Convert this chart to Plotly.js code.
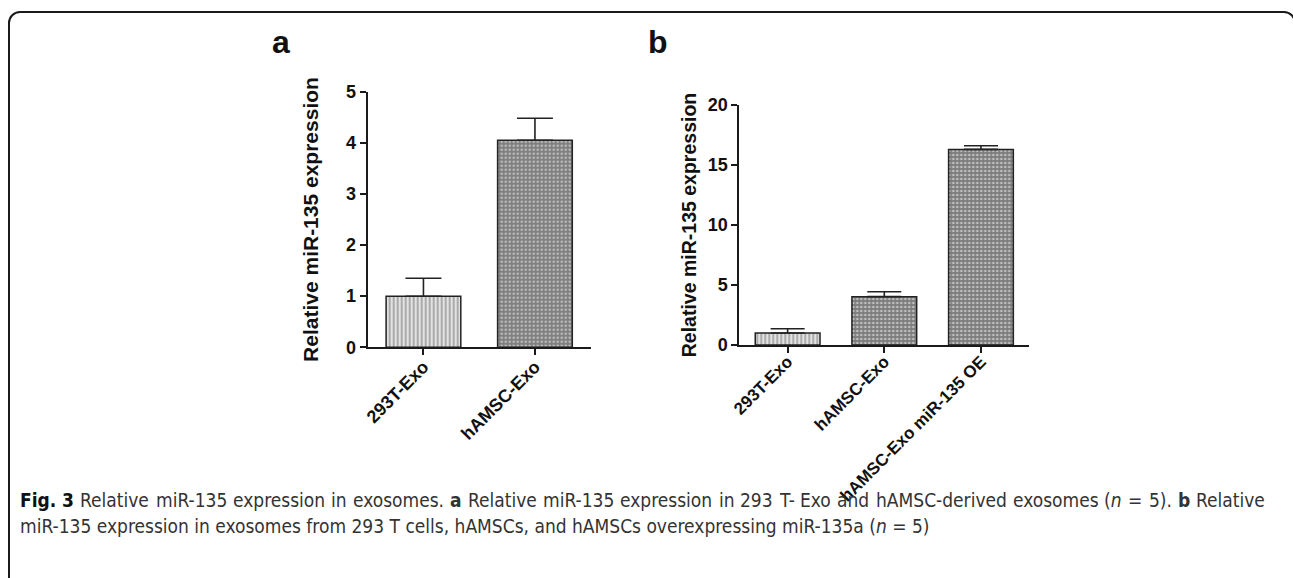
<!DOCTYPE html>
<html><head><meta charset="utf-8">
<script src="https://cdn.plot.ly/plotly-3.0.1.min.js"></script>
<style>
html,body{margin:0;padding:0;background:#fff;overflow:hidden;}
#frame{position:absolute;left:8px;top:11px;width:1288px;height:640px;border:2px solid #1a1a1a;border-radius:12px;box-sizing:border-box;}
#chart{position:absolute;left:0;top:0;width:1293px;height:578px;}
</style></head><body>
<div id="frame"></div>
<div id="chart"></div>
<script>
// Panel a
const catsA = ['293T-Exo', 'hAMSC-Exo'];
const valsA = [1.0, 4.05];
const errA = [0.35, 0.43];
// Panel b
const catsB = ['293T-Exo', 'hAMSC-Exo', 'hAMSC-Exo miR-135 OE'];
const valsB = [1.0, 4.03, 16.3];
const errB = [0.36, 0.41, 0.3];
const yTitle = 'Relative miR-135 expression';
// Caption (line 1 is justified, so it is kept as words)
const caption1Words = ['<b>Fig.</b>', '<b>3</b>', 'Relative', 'miR-135', 'expression', 'in', 'exosomes.',
  '<b>a</b>', 'Relative', 'miR-135', 'expression', 'in', '293', 'T-', 'Exo', 'and', 'hAMSC-derived',
  'exosomes', '(<i>n</i>', '=', '5).', '<b>b</b>', 'Relative'];
const caption2 = 'miR-135 expression in exosomes from 293 T cells, hAMSCs, and hAMSCs overexpressing miR-135a (<i>n</i> = 5)';

const W = 1293, H = 578;
const fx = x => x / W;
const fy = y => 1 - y / H;

const FONT = 'Liberation Sans, Arial, sans-serif';
const CAPFAMILY = 'DejaVu Sans Condensed';
const CAPFONT = CAPFAMILY + ', Liberation Sans Narrow, sans-serif';
const CAPSIZE = 19;
const INK = '#1a1a1a';

function markerFor(cats) {
  return {
    color: cats.map((c, i) => i === 0 ? '#e2e2e2' : '#7c7c7c'),
    pattern: {
      shape: cats.map((c, i) => i === 0 ? '|' : '.'),
      fillmode: 'overlay',
      fgcolor: cats.map((c, i) => i === 0 ? '#c8c8c8' : '#9e9e9e'),
      size: 4,
      solidity: 0.35
    },
    line: {color: '#222', width: 1.5}
  };
}

const traceA = {
  type: 'bar', x: catsA, y: valsA, xaxis: 'x', yaxis: 'y', width: 0.67,
  marker: markerFor(catsA),
  error_y: {type: 'data', symmetric: false, array: errA, arrayminus: errA.map(() => 0),
            color: '#222', thickness: 1.6, width: 18},
  hoverinfo: 'x+y', showlegend: false
};
const traceB = {
  type: 'bar', x: catsB, y: valsB, xaxis: 'x2', yaxis: 'y2', width: 0.67,
  marker: markerFor(catsB),
  error_y: {type: 'data', symmetric: false, array: errB, arrayminus: errB.map(() => 0),
            color: '#222', thickness: 1.6, width: 17},
  hoverinfo: 'x+y', showlegend: false
};

const axisCommon = {
  showline: true, linecolor: INK, linewidth: 2, showgrid: false, zeroline: false,
  ticks: 'outside', ticklen: 6, tickwidth: 2, tickcolor: INK,
  tickfont: {family: FONT, size: 18, color: '#111', weight: 'bold'},
  fixedrange: true
};

// justified caption line 1
const ctx = document.createElement('canvas').getContext('2d');
function measure(html) {
  const re = /<(b|i)>(.*?)<\/\1>|([^<]+)/g;
  let m, w = 0;
  while ((m = re.exec(html)) !== null) {
    const style = m[1] === 'b' ? 'bold ' : (m[1] === 'i' ? 'italic ' : '');
    const txt = m[2] !== undefined ? m[2] : m[3];
    ctx.font = style + CAPSIZE + 'px "' + CAPFAMILY + '"';
    w += ctx.measureText(txt).width;
  }
  return w;
}
const lineX0 = 20, lineX1 = 1265;
const widths = caption1Words.map(measure);
const totalW = widths.reduce((a, b) => a + b, 0);
const gap = (lineX1 - lineX0 - totalW) / (caption1Words.length - 1);
const capAnn = [];
let cx = lineX0;
caption1Words.forEach((wd, i) => {
  capAnn.push({text: wd, xref: 'paper', yref: 'paper', x: fx(cx - 1), y: fy(500), xanchor: 'left', yanchor: 'middle',
    showarrow: false, borderpad: 0, font: {family: CAPFONT, size: CAPSIZE, color: i < 2 ? '#111' : '#333'}});
  cx += widths[i] + gap;
});
capAnn.push({text: caption2, xref: 'paper', yref: 'paper', x: fx(lineX0 - 1), y: fy(526), xanchor: 'left', yanchor: 'middle',
  showarrow: false, borderpad: 0, font: {family: CAPFONT, size: CAPSIZE, color: '#333'}});

const layout = {
  width: W, height: H,
  margin: {l: 0, r: 0, t: 0, b: 0},
  paper_bgcolor: 'rgba(0,0,0,0)', plot_bgcolor: 'rgba(0,0,0,0)',
  showlegend: false,
  xaxis: Object.assign({}, axisCommon, {
    domain: [fx(367.7), fx(590.7)], anchor: 'y', type: 'category',
    range: [-0.5, 1.5], tickangle: -45, ticklabelstandoff: -6,
    tickfont: {family: FONT, size: 18, color: '#111', weight: 'bold'}
  }),
  yaxis: Object.assign({}, axisCommon, {
    domain: [fy(347.3), fy(91.7)], anchor: 'x', range: [0, 5], dtick: 1,
    title: {text: yTitle, font: {family: FONT, size: 21, color: '#111', weight: 'bold'}, standoff: 22}
  }),
  xaxis2: Object.assign({}, axisCommon, {
    domain: [fx(739.3), fx(1029.3)], anchor: 'y2', type: 'category',
    range: [-0.5, 2.5], tickangle: -45, ticklabelstandoff: -8,
    tickfont: {family: FONT, size: 17, color: '#111', weight: 'bold'}
  }),
  yaxis2: Object.assign({}, axisCommon, {
    domain: [fy(345), fy(105)], anchor: 'x2', range: [0, 20], dtick: 5,
    title: {text: yTitle, font: {family: FONT, size: 19.5, color: '#111', weight: 'bold'}, standoff: 6}
  }),
  annotations: [
    {text: '<b>a</b>', xref: 'paper', yref: 'paper', x: fx(281), y: fy(42), xanchor: 'center', yanchor: 'middle',
     showarrow: false, font: {family: FONT, size: 32, color: '#111'}},
    {text: '<b>b</b>', xref: 'paper', yref: 'paper', x: fx(658), y: fy(42), xanchor: 'center', yanchor: 'middle',
     showarrow: false, font: {family: FONT, size: 32, color: '#111'}}
  ].concat(capAnn)
};

Plotly.newPlot('chart', [traceA, traceB], layout, {displayModeBar: false, staticPlot: true});
</script>
</body></html>
